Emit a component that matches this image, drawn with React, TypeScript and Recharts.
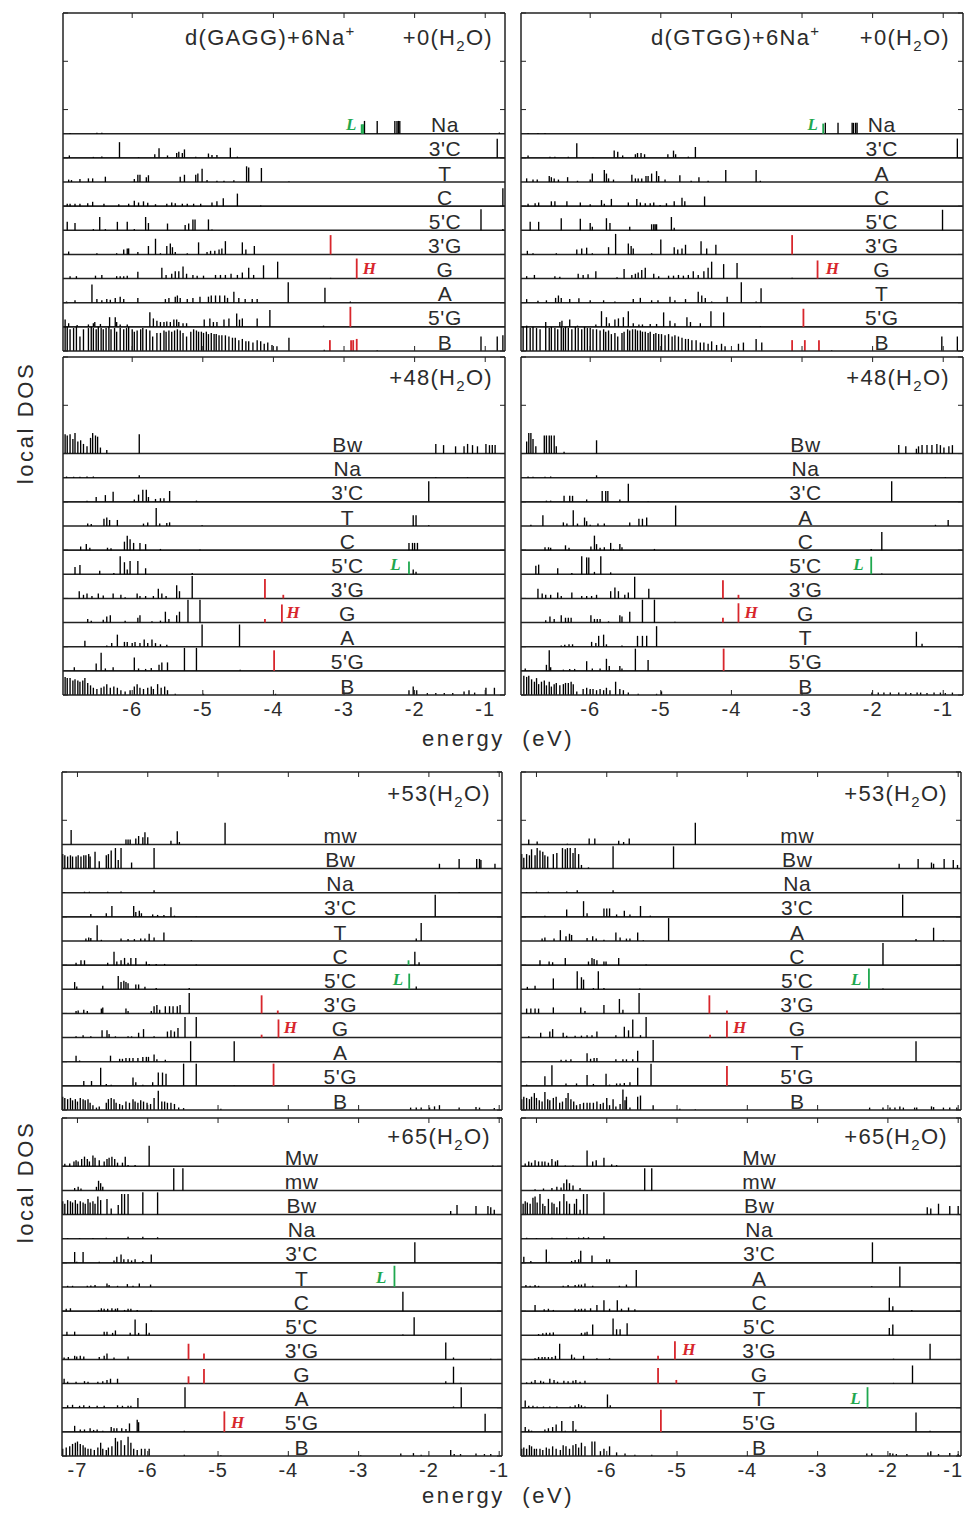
import React from 'react';
import { ComposedChart, Scatter, ErrorBar, XAxis, YAxis, ReferenceLine } from 'recharts';

// [energy (eV), local DOS height in strip units]
type Pk = [number, number];
// [strip, energy, height] for HOMO / LUMO lines
type Mark = [string, number, number];
// [letter, strip, energy of letter]
type Tag = [string, string, number];

// ---------- d(GAGG)+6Na+, +0 H2O ----------
const gagg0Na: Pk[] = [[-6.88,.03],[-6.50,.04],[-6.43,.04],[-2.71,.53],[-2.53,.53],[-2.28,.53],[-2.25,.53],[-2.23,.53],[-2.21,.53],[-0.80,.05]];
const gagg0C3: Pk[] = [[-6.89,.1],[-6.55,.04],[-6.43,.06],[-6.18,.65],[-5.91,.03],[-5.68,.15],[-5.62,.4],[-5.50,.1],[-5.37,.2],[-5.34,.25],[-5.29,.2],[-5.26,.35],[-5.10,.05],[-4.92,.18],[-4.87,.12],[-4.80,.12],[-4.61,.42],[-4.51,.05],[-0.83,.79]];
const gagg0T: Pk[] = [[-6.90,.1],[-6.86,.08],[-6.74,.12],[-6.62,.15],[-6.56,.15],[-6.38,.22],[-5.97,.12],[-5.92,.3],[-5.89,.3],[-5.80,.2],[-5.77,.28],[-5.32,.22],[-5.26,.3],[-5.10,.3],[-5.07,.35],[-5.01,.55],[-4.94,.08],[-4.80,.05],[-4.70,.05],[-4.56,.07],[-4.38,.65],[-4.35,.6],[-4.17,.58],[-3.78,.02]];
const gagg0C: Pk[] = [[-6.92,.1],[-6.88,.1],[-6.81,.1],[-6.74,.1],[-6.63,.12],[-6.56,.18],[-6.40,.1],[-6.19,.08],[-6.05,.1],[-5.97,.22],[-5.91,.15],[-5.84,.2],[-5.78,.14],[-5.67,.08],[-5.51,.1],[-5.44,.15],[-5.39,.12],[-5.29,.1],[-5.22,.1],[-5.13,.1],[-5.03,.1],[-4.87,.15],[-4.80,.2],[-4.71,.33],[-4.51,.52],[-4.18,.03],[-0.75,.74]];
const gagg0C5: Pk[] = [[-6.92,.35],[-6.81,.3],[-6.55,.05],[-6.46,.55],[-6.38,.05],[-6.21,.35],[-6.07,.35],[-5.97,.05],[-5.81,.55],[-5.77,.3],[-5.50,.28],[-5.25,.22],[-5.20,.28],[-5.14,.45],[-5.11,.45],[-4.92,.45],[-4.87,.03],[-1.06,.87],[-0.75,.05]];
const gagg0G3: Pk[] = [[-6.90,.12],[-6.50,.05],[-6.22,.05],[-6.12,.2],[-6.07,.25],[-6.05,.25],[-5.92,.1],[-5.77,.35],[-5.67,.65],[-5.60,.05],[-5.51,.35],[-5.46,.45],[-5.43,.3],[-5.39,.1],[-5.22,.05],[-5.06,.5],[-4.94,.1],[-4.89,.15],[-4.83,.15],[-4.77,.2],[-4.73,.25],[-4.68,.55],[-4.44,.5],[-4.39,.2],[-4.27,.35]];
const gagg0G: Pk[] = [[-6.88,.1],[-6.79,.1],[-6.52,.12],[-6.43,.15],[-6.22,.1],[-6.17,.1],[-6.12,.1],[-6.07,.12],[-5.92,.28],[-5.58,.45],[-5.52,.15],[-5.44,.2],[-5.39,.3],[-5.34,.3],[-5.28,.5],[-5.23,.2],[-5.14,.15],[-5.08,.12],[-4.99,.12],[-4.82,.15],[-4.75,.15],[-4.68,.15],[-4.60,.2],[-4.51,.15],[-4.44,.25],[-4.35,.45],[-4.28,.15],[-4.14,.55],[-3.94,.7],[-3.19,.03]];
const gagg0A: Pk[] = [[-6.93,.05],[-6.81,.1],[-6.57,.75],[-6.50,.15],[-6.43,.1],[-6.36,.15],[-6.31,.12],[-6.24,.2],[-6.17,.25],[-6.12,.15],[-5.92,.2],[-5.53,.15],[-5.48,.2],[-5.39,.25],[-5.36,.3],[-5.32,.2],[-5.22,.15],[-5.14,.2],[-5.04,.25],[-4.92,.25],[-4.88,.3],[-4.82,.3],[-4.76,.3],[-4.69,.3],[-4.65,.2],[-4.56,.45],[-4.49,.2],[-4.40,.15],[-4.30,.15],[-4.23,.15],[-3.79,.85],[-3.27,.62],[-2.91,.05]];
const gagg0G5: Pk[] = [[-6.95,.3],[-6.90,.15],[-6.78,.08],[-6.62,.1],[-6.55,.15],[-6.53,.2],[-6.45,.12],[-6.32,.4],[-6.24,.4],[-6.22,.2],[-6.17,.1],[-6.07,.1],[-5.75,.6],[-5.70,.35],[-5.65,.25],[-5.60,.2],[-5.55,.2],[-5.51,.22],[-5.46,.2],[-5.41,.3],[-5.37,.3],[-5.34,.2],[-5.28,.15],[-5.23,.15],[-4.98,.3],[-4.90,.35],[-4.85,.2],[-4.80,.2],[-4.70,.3],[-4.63,.35],[-4.52,.55],[-4.48,.3],[-4.44,.35],[-4.23,.35],[-4.05,.7],[-3.29,.05]];
const gagg0B: Pk[] = [[-6.95,1],[-6.92,1],[-6.88,.9],[-6.83,.95],[-6.79,1],[-6.74,.6],[-6.69,.9],[-6.62,.95],[-6.58,1],[-6.55,.95],[-6.51,.9],[-6.48,1],[-6.44,.95],[-6.41,.9],[-6.37,.95],[-6.33,1],[-6.30,.9],[-6.25,.95],[-6.22,.8],[-6.17,.95],[-6.12,.9],[-6.08,.95],[-6.05,1],[-6.00,.9],[-5.97,.8],[-5.93,.85],[-5.88,.9],[-5.85,.95],[-5.80,.9],[-5.75,.85],[-5.71,.6],[-5.65,.75],[-5.60,.75],[-5.55,.85],[-5.52,.8],[-5.48,.85],[-5.44,.8],[-5.40,.85],[-5.36,.9],[-5.32,.85],[-5.28,.75],[-5.23,.6],[-5.17,.8],[-5.13,.9],[-5.09,.85],[-5.06,.8],[-5.02,.8],[-4.99,.75],[-4.95,.8],[-4.92,.7],[-4.88,.75],[-4.84,.7],[-4.81,.7],[-4.77,.65],[-4.73,.65],[-4.68,.65],[-4.63,.6],[-4.58,.55],[-4.54,.55],[-4.49,.45],[-4.44,.5],[-4.39,.4],[-4.35,.4],[-4.29,.35],[-4.23,.45],[-4.18,.4],[-4.13,.3],[-4.08,.35],[-4.02,.25],[-3.95,.2],[-3.78,.55],[-3.28,.05],[-2.53,.03],[-1.06,.6],[-0.83,.6],[-0.75,.65]];
const gagg0Homo: Mark[] = [["3'G",-3.19,.8],['G',-2.82,.83],["5'G",-2.91,.83],['B',-3.20,.45],['B',-2.90,.45],['B',-2.87,.45],['B',-2.82,.5]];
const gagg0Lumo: Mark[] = [['Na',-2.75,.39],['Na',-2.73,.39]];
const gagg0Tags: Tag[] = [['L','Na',-2.90],['H','G',-2.64]];

// ---------- d(GTGG)+6Na+, +0 H2O ----------
const gtgg0Na: Pk[] = [[-6.88,.03],[-6.74,.03],[-6.64,.03],[-2.67,.45],[-2.49,.45],[-2.29,.45],[-2.27,.45],[-2.24,.45],[-2.22,.45]];
const gtgg0C3: Pk[] = [[-6.88,.1],[-6.57,.05],[-6.50,.05],[-6.31,.05],[-6.19,.6],[-5.96,.03],[-5.66,.3],[-5.61,.25],[-5.54,.1],[-5.36,.15],[-5.33,.2],[-5.28,.2],[-5.23,.15],[-4.90,.15],[-4.82,.3],[-4.79,.15],[-4.61,.05],[-4.51,.45],[-0.80,.8]];
const gtgg0A: Pk[] = [[-6.90,.15],[-6.81,.1],[-6.75,.1],[-6.58,.25],[-6.55,.2],[-6.51,.15],[-6.45,.1],[-6.32,.2],[-6.18,.05],[-6.00,.1],[-5.97,.35],[-5.80,.5],[-5.77,.35],[-5.74,.15],[-5.67,.1],[-5.41,.3],[-5.36,.15],[-5.32,.15],[-5.27,.15],[-5.21,.25],[-5.18,.25],[-5.13,.35],[-5.06,.45],[-5.03,.25],[-4.94,.1],[-4.73,.28],[-4.57,.05],[-4.46,.2],[-4.33,.05],[-4.08,.5],[-3.65,.5],[-3.59,.05]];
const gtgg0C: Pk[] = [[-6.88,.1],[-6.78,.12],[-6.73,.15],[-6.55,.2],[-6.50,.2],[-6.33,.2],[-6.14,.15],[-6.00,.08],[-5.84,.25],[-5.80,.1],[-5.70,.3],[-5.46,.15],[-5.34,.3],[-5.29,.15],[-5.22,.12],[-5.15,.12],[-5.10,.15],[-5.01,.05],[-4.92,.12],[-4.81,.2],[-4.70,.35],[-4.66,.2],[-4.38,.4]];
const gtgg0C5: Pk[] = [[-6.85,.35],[-6.73,.35],[-6.41,.5],[-6.14,.48],[-6.00,.3],[-5.97,.15],[-5.77,.5],[-5.72,.3],[-5.44,.15],[-5.13,.25],[-5.10,.25],[-5.08,.25],[-5.06,.25],[-4.85,.55],[-4.81,.1],[-1.01,.85]];
const gtgg0G3: Pk[] = [[-6.89,.15],[-6.81,.05],[-6.48,.05],[-6.19,.2],[-6.12,.25],[-6.05,.28],[-5.97,.05],[-5.74,.3],[-5.64,.85],[-5.46,.45],[-5.42,.35],[-5.39,.25],[-5.13,.05],[-5.00,.62],[-4.81,.3],[-4.76,.2],[-4.70,.25],[-4.65,.4],[-4.43,.55],[-4.35,.25],[-4.22,.4]];
const gtgg0G: Pk[] = [[-6.90,.1],[-6.79,.15],[-6.50,.1],[-6.43,.08],[-6.17,.2],[-6.10,.15],[-6.03,.18],[-5.92,.3],[-5.62,.05],[-5.52,.4],[-5.41,.15],[-5.36,.2],[-5.32,.25],[-5.27,.35],[-5.22,.45],[-5.10,.2],[-5.03,.1],[-4.89,.12],[-4.82,.12],[-4.75,.15],[-4.68,.12],[-4.61,.15],[-4.54,.3],[-4.47,.15],[-4.39,.3],[-4.33,.45],[-4.28,.7],[-4.11,.6],[-3.92,.65],[-3.14,.03]];
const gtgg0T: Pk[] = [[-6.90,.15],[-6.74,.08],[-6.62,.1],[-6.49,.2],[-6.45,.3],[-6.41,.2],[-6.29,.15],[-6.16,.18],[-6.00,.1],[-5.81,.1],[-5.65,.05],[-5.39,.15],[-5.29,.2],[-5.13,.1],[-5.04,.1],[-4.87,.25],[-4.80,.1],[-4.65,.15],[-4.47,.45],[-4.42,.3],[-4.37,.2],[-4.28,.05],[-4.06,.25],[-3.86,.85],[-3.65,.05],[-3.58,.6]];
const gtgg0G5: Pk[] = [[-6.90,.05],[-6.63,.2],[-6.43,.2],[-6.40,.25],[-6.29,.3],[-6.18,.05],[-5.92,.1],[-5.84,.65],[-5.77,.4],[-5.73,.15],[-5.65,.3],[-5.60,.35],[-5.53,.4],[-5.46,.65],[-5.39,.15],[-5.31,.1],[-5.26,.1],[-5.15,.12],[-5.06,.12],[-4.96,.6],[-4.87,.25],[-4.80,.15],[-4.63,.4],[-4.58,.2],[-4.44,.15],[-4.29,.65],[-4.11,.6],[-3.59,.03]];
const gtgg0B: Pk[] = [[-6.95,1],[-6.90,1],[-6.85,.95],[-6.81,1],[-6.76,.95],[-6.71,.9],[-6.63,1],[-6.58,.95],[-6.55,1],[-6.50,.95],[-6.46,.9],[-6.41,1],[-6.38,.95],[-6.35,1],[-6.31,.95],[-6.26,.9],[-6.21,1],[-6.17,.95],[-6.12,.9],[-6.08,1],[-6.04,.95],[-6.00,.95],[-5.96,.9],[-5.91,.9],[-5.86,.85],[-5.81,.9],[-5.78,.8],[-5.74,.85],[-5.70,.7],[-5.65,.75],[-5.61,.6],[-5.55,.75],[-5.52,.8],[-5.47,.9],[-5.44,.85],[-5.40,.9],[-5.36,.9],[-5.33,.85],[-5.29,.85],[-5.26,.8],[-5.22,.8],[-5.18,.75],[-5.15,.8],[-5.10,.7],[-5.07,.75],[-5.03,.7],[-4.99,.7],[-4.94,.65],[-4.89,.7],[-4.84,.6],[-4.80,.65],[-4.75,.6],[-4.70,.55],[-4.65,.5],[-4.61,.5],[-4.56,.45],[-4.50,.45],[-4.44,.35],[-4.39,.35],[-4.33,.3],[-4.28,.4],[-4.21,.25],[-4.14,.3],[-4.09,.2],[-3.90,.3],[-3.83,.35],[-3.65,.5],[-3.57,.35],[-2.58,.03],[-1.02,.6],[-0.80,.6]];
const gtgg0Homo: Mark[] = [["3'G",-3.14,.8],['G',-2.78,.75],["5'G",-2.98,.75],['B',-3.14,.45],['B',-2.96,.45],['B',-2.76,.45]];
const gtgg0Lumo: Mark[] = [['Na',-2.70,.42]];
const gtgg0Tags: Tag[] = [['L','Na',-2.85],['H','G',-2.57]];

// ---------- GAGG +48 H2O ----------
const gagg48Bw: Pk[] = [[-6.95,.8],[-6.92,.75],[-6.88,.8],[-6.84,.6],[-6.81,.85],[-6.77,.5],[-6.73,.55],[-6.69,.4],[-6.64,.3],[-6.59,.65],[-6.56,.85],[-6.52,.75],[-6.49,.7],[-6.45,.25],[-6.36,.15],[-5.90,.8],[-1.70,.4],[-1.59,.35],[-1.42,.3],[-1.30,.3],[-1.25,.4],[-1.18,.35],[-1.11,.3],[-0.99,.4],[-0.94,.35],[-0.90,.35],[-0.86,.35]];
const gagg48Na: Pk[] = [[-6.93,.05],[-6.83,.04],[-6.74,.04],[-6.64,.05],[-6.55,.05],[-5.90,.1],[-1.70,.03],[-1.25,.03]];
const gagg48C3: Pk[] = [[-6.64,.05],[-6.51,.2],[-6.38,.28],[-6.27,.42],[-5.97,.1],[-5.91,.3],[-5.85,.5],[-5.80,.5],[-5.77,.2],[-5.67,.12],[-5.60,.15],[-5.55,.15],[-5.47,.45],[-5.09,.05],[-1.80,.85]];
const gagg48T: Pk[] = [[-6.63,.1],[-6.58,.08],[-6.40,.3],[-6.36,.35],[-6.32,.25],[-6.21,.25],[-5.84,.1],[-5.78,.15],[-5.66,.75],[-5.61,.1],[-5.51,.12],[-5.47,.15],[-5.01,.03],[-2.02,.45],[-1.98,.45],[-1.80,.03]];
const gagg48C: Pk[] = [[-6.73,.15],[-6.65,.25],[-6.60,.1],[-6.35,.1],[-6.30,.08],[-6.11,.35],[-6.07,.6],[-6.03,.45],[-5.98,.3],[-5.89,.3],[-5.81,.25],[-5.60,.05],[-5.04,.03],[-2.08,.3],[-2.03,.3],[-2.00,.3],[-1.96,.3]];
const gagg48C5: Pk[] = [[-6.81,.3],[-6.74,.38],[-6.46,.15],[-6.26,.05],[-6.17,.75],[-6.11,.5],[-6.07,.2],[-6.03,.55],[-5.92,.55],[-5.81,.25],[-5.15,.05],[-2.02,.2],[-1.98,.1]];
const gagg48G3: Pk[] = [[-6.75,.3],[-6.69,.15],[-6.64,.2],[-6.57,.1],[-6.48,.2],[-6.41,.12],[-6.27,.2],[-6.16,.15],[-6.10,.05],[-5.93,.2],[-5.89,.1],[-5.81,.1],[-5.70,.1],[-5.63,.4],[-5.58,.2],[-5.52,.1],[-5.37,.55],[-5.33,.3],[-5.15,.93]];
const gagg48G: Pk[] = [[-6.63,.15],[-6.58,.08],[-6.41,.12],[-6.36,.25],[-6.31,.3],[-6.10,.08],[-5.92,.2],[-5.89,.3],[-5.72,.05],[-5.60,.08],[-5.53,.45],[-5.48,.15],[-5.37,.3],[-5.33,.45],[-5.21,.95],[-5.04,.95]];
const gagg48A: Pk[] = [[-6.67,.25],[-6.36,.05],[-6.29,.15],[-6.21,.5],[-6.11,.2],[-6.07,.2],[-6.00,.15],[-5.96,.2],[-5.89,.15],[-5.83,.3],[-5.78,.15],[-5.72,.3],[-5.67,.15],[-5.60,.1],[-5.51,.08],[-5.01,.92],[-4.48,.92]];
const gagg48G5: Pk[] = [[-6.82,.15],[-6.51,.3],[-6.44,.75],[-6.38,.1],[-6.27,.15],[-5.97,.55],[-5.91,.1],[-5.81,.08],[-5.73,.12],[-5.62,.25],[-5.58,.35],[-5.50,.35],[-5.26,.95],[-5.09,.95],[-4.47,.05]];
const gagg48B: Pk[] = [[-6.95,.75],[-6.92,.7],[-6.88,.7],[-6.84,.6],[-6.81,.65],[-6.77,.6],[-6.74,.55],[-6.70,.6],[-6.67,.7],[-6.63,.5],[-6.59,.4],[-6.55,.3],[-6.50,.25],[-6.44,.3],[-6.40,.35],[-6.36,.45],[-6.31,.3],[-6.26,.35],[-6.21,.3],[-6.16,.2],[-6.10,.15],[-6.03,.2],[-5.97,.35],[-5.93,.45],[-5.89,.3],[-5.84,.25],[-5.78,.3],[-5.73,.35],[-5.70,.25],[-5.64,.45],[-5.59,.3],[-5.54,.35],[-5.50,.2],[-5.39,.05],[-4.99,.05],[-3.97,.05],[-2.08,.2],[-2.02,.35],[-1.97,.2],[-1.82,.08],[-1.70,.08],[-1.58,.08],[-1.46,.08],[-1.30,.15],[-1.23,.2],[-1.15,.1],[-0.99,.3],[-0.87,.3]];
const gagg48Homo: Mark[] = [["3'G",-4.12,.8],["3'G",-3.86,.15],['G',-4.12,.15],['G',-3.88,.75],["5'G",-3.99,.85]];
const gagg48Lumo: Mark[] = [["5'C",-2.08,.53]];
const gagg48Tags: Tag[] = [['L',"5'C",-2.27],['H','G',-3.72]];

// ---------- GTGG +48 H2O ----------
const gtgg48Bw: Pk[] = [[-6.90,.5],[-6.87,.85],[-6.84,.85],[-6.81,.6],[-6.77,.3],[-6.65,.75],[-6.62,.75],[-6.58,.75],[-6.55,.75],[-6.51,.75],[-6.48,.3],[-6.37,.08],[-5.91,.55],[-1.63,.35],[-1.53,.3],[-1.38,.2],[-1.35,.3],[-1.30,.35],[-1.23,.35],[-1.16,.35],[-1.09,.4],[-1.04,.35],[-0.99,.25],[-0.92,.3],[-0.87,.35]];
const gtgg48Na: Pk[] = [[-6.88,.05],[-6.81,.04],[-6.64,.04],[-6.56,.05],[-5.91,.1],[-0.97,.03]];
const gtgg48C3: Pk[] = [[-6.62,.05],[-6.56,.05],[-6.37,.25],[-6.29,.25],[-6.25,.25],[-6.05,.1],[-5.83,.45],[-5.78,.45],[-5.75,.45],[-5.58,.1],[-5.46,.75],[-5.18,.03],[-1.73,.85]];
const gtgg48A: Pk[] = [[-6.84,.05],[-6.67,.45],[-6.38,.15],[-6.33,.1],[-6.24,.65],[-6.18,.1],[-6.08,.35],[-6.05,.2],[-6.00,.05],[-5.89,.1],[-5.80,.1],[-5.44,.15],[-5.31,.3],[-5.26,.3],[-5.20,.35],[-4.79,.85],[-1.11,.05],[-0.93,.25]];
const gtgg48C: Pk[] = [[-6.64,.12],[-6.59,.12],[-6.56,.1],[-6.35,.2],[-6.30,.1],[-5.99,.15],[-5.94,.6],[-5.91,.25],[-5.86,.1],[-5.80,.12],[-5.71,.3],[-5.67,.05],[-5.58,.25],[-5.55,.12],[-5.09,.05],[-2.02,.05],[-1.87,.75]];
const gtgg48C5: Pk[] = [[-6.77,.35],[-6.73,.4],[-6.46,.25],[-6.26,.05],[-6.12,.75],[-6.05,.7],[-6.02,.7],[-5.94,.1],[-5.85,.75],[-5.71,.08],[-1.87,.03]];
const gtgg48G3: Pk[] = [[-6.74,.4],[-6.68,.2],[-6.63,.15],[-6.56,.15],[-6.46,.25],[-6.41,.1],[-6.26,.25],[-6.12,.1],[-6.05,.1],[-5.98,.1],[-5.91,.15],[-5.71,.3],[-5.65,.45],[-5.60,.3],[-5.51,.15],[-5.46,.25],[-5.37,.9],[-5.17,.4]];
const gtgg48G: Pk[] = [[-6.63,.1],[-6.57,.25],[-6.51,.15],[-6.41,.3],[-6.35,.2],[-6.31,.2],[-6.27,.2],[-5.99,.3],[-5.94,.15],[-5.90,.15],[-5.86,.15],[-5.74,.05],[-5.58,.3],[-5.55,.25],[-5.44,.45],[-5.26,.95],[-5.09,.95],[-4.80,.03]];
const gtgg48T: Pk[] = [[-6.41,.05],[-6.36,.08],[-6.30,.1],[-6.25,.1],[-5.98,.2],[-5.92,.15],[-5.88,.45],[-5.81,.5],[-5.77,.1],[-5.55,.05],[-5.33,.45],[-5.26,.45],[-5.20,.45],[-5.06,.85],[-1.38,.62],[-1.30,.12]];
const gtgg48G5: Pk[] = [[-6.92,.1],[-6.62,.25],[-6.58,.85],[-6.56,.15],[-6.38,.05],[-6.29,.08],[-6.22,.08],[-6.05,.4],[-5.97,.1],[-5.86,.1],[-5.77,.5],[-5.73,.2],[-5.58,.2],[-5.55,.1],[-5.36,.92],[-5.18,.45]];
const gtgg48B: Pk[] = [[-6.94,.8],[-6.90,.75],[-6.87,.8],[-6.83,.65],[-6.79,.55],[-6.76,.7],[-6.73,.45],[-6.69,.55],[-6.65,.6],[-6.62,.4],[-6.58,.55],[-6.55,.35],[-6.51,.45],[-6.48,.5],[-6.43,.4],[-6.38,.45],[-6.35,.5],[-6.31,.5],[-6.27,.55],[-6.24,.45],[-6.19,.15],[-6.10,.25],[-6.05,.3],[-6.00,.25],[-5.96,.25],[-5.91,.2],[-5.86,.25],[-5.81,.2],[-5.77,.3],[-5.72,.2],[-5.64,.55],[-5.58,.25],[-5.53,.2],[-5.46,.1],[-5.32,.05],[-5.06,.05],[-4.99,.15],[-2.01,.1],[-1.92,.1],[-1.84,.1],[-1.75,.1],[-1.63,.1],[-1.53,.1],[-1.46,.08],[-1.37,.1],[-1.32,.1],[-1.23,.08],[-1.13,.1],[-1.04,.1],[-0.97,.08],[-0.87,.1]];
const gtgg48Homo: Mark[] = [["3'G",-4.12,.75],["3'G",-3.90,.15],['G',-4.12,.2],['G',-3.90,.8],["5'G",-4.11,.92]];
const gtgg48Lumo: Mark[] = [["5'C",-2.02,.73]];
const gtgg48Tags: Tag[] = [['L',"5'C",-2.20],['H','G',-3.72]];

// ---------- GAGG +53 H2O ----------
const gagg53mw: Pk[] = [[-7.09,.6],[-6.31,.2],[-6.28,.2],[-6.25,.2],[-6.17,.25],[-6.13,.35],[-6.07,.3],[-6.04,.5],[-6.00,.3],[-5.67,.15],[-5.58,.55],[-5.55,.1],[-4.90,.9]];
const gagg53Bw: Pk[] = [[-7.21,.6],[-7.18,.55],[-7.14,.5],[-7.10,.55],[-7.07,.5],[-7.02,.5],[-6.99,.55],[-6.95,.5],[-6.91,.55],[-6.88,.55],[-6.84,.6],[-6.82,.5],[-6.75,.7],[-6.69,.3],[-6.59,.55],[-6.56,.6],[-6.52,.75],[-6.46,.85],[-6.42,.35],[-6.38,.85],[-6.23,.25],[-5.91,.85],[-1.85,.2],[-1.57,.4],[-1.32,.4],[-1.28,.4],[-1.26,.35],[-1.06,.2]];
const gagg53Na: Pk[] = [[-7.19,.03],[-6.90,.04],[-6.83,.04],[-6.57,.04],[-6.38,.05],[-5.91,.1],[-1.85,.03],[-1.57,.03]];
const gagg53C3: Pk[] = [[-6.81,.12],[-6.59,.15],[-6.51,.45],[-6.20,.45],[-6.17,.2],[-6.12,.25],[-6.09,.15],[-5.93,.1],[-5.86,.08],[-5.77,.08],[-5.67,.4],[-5.62,.05],[-5.31,.03],[-1.91,.92]];
const gagg53T: Pk[] = [[-6.88,.1],[-6.84,.15],[-6.81,.12],[-6.72,.65],[-6.66,.05],[-6.38,.1],[-6.28,.08],[-6.19,.08],[-6.10,.1],[-6.04,.1],[-5.98,.3],[-5.91,.15],[-5.77,.35],[-5.38,.03],[-2.18,.1],[-2.11,.75]];
const gagg53C: Pk[] = [[-7.02,.1],[-6.95,.2],[-6.90,.2],[-6.57,.1],[-6.48,.55],[-6.44,.15],[-6.38,.2],[-6.33,.3],[-6.28,.1],[-6.24,.3],[-6.17,.3],[-6.02,.15],[-5.98,.05],[-5.88,.05],[-5.76,.05],[-5.31,.03],[-2.20,.55],[-2.14,.12]];
const gagg53C5: Pk[] = [[-7.04,.3],[-7.01,.12],[-6.64,.15],[-6.42,.55],[-6.38,.3],[-6.34,.35],[-6.31,.3],[-6.28,.25],[-6.17,.2],[-6.13,.2],[-6.04,.1],[-5.88,.05],[-5.41,.05],[-2.18,.12]];
const gagg53G3: Pk[] = [[-7.02,.1],[-6.99,.12],[-6.91,.15],[-6.86,.1],[-6.66,.2],[-6.64,.25],[-6.31,.2],[-6.28,.1],[-5.95,.1],[-5.91,.3],[-5.87,.35],[-5.83,.15],[-5.75,.3],[-5.69,.3],[-5.64,.3],[-5.58,.3],[-5.54,.35],[-5.41,.85]];
const gagg53G: Pk[] = [[-7.02,.05],[-6.92,.1],[-6.81,.05],[-6.65,.3],[-6.58,.3],[-6.55,.15],[-6.46,.05],[-6.28,.05],[-6.23,.05],[-6.13,.2],[-6.06,.35],[-5.91,.05],[-5.72,.25],[-5.67,.3],[-5.62,.25],[-5.57,.4],[-5.47,.85],[-5.31,.85]];
const gagg53A: Pk[] = [[-7.02,.25],[-6.97,.05],[-6.53,.25],[-6.40,.12],[-6.36,.12],[-6.31,.15],[-6.26,.15],[-6.21,.15],[-6.14,.15],[-6.07,.2],[-6.02,.2],[-5.99,.2],[-5.91,.3],[-5.87,.1],[-5.75,.08],[-5.39,.85],[-4.77,.85]];
const gagg53G5: Pk[] = [[-6.91,.2],[-6.80,.2],[-6.67,.75],[-6.59,.08],[-6.52,.05],[-6.21,.35],[-6.17,.15],[-6.07,.05],[-5.93,.15],[-5.85,.55],[-5.79,.55],[-5.74,.5],[-5.49,.92],[-5.31,.92],[-4.77,.03]];
const gagg53B: Pk[] = [[-7.21,.55],[-7.18,.5],[-7.14,.45],[-7.10,.5],[-7.07,.4],[-7.03,.45],[-7.00,.35],[-6.96,.5],[-6.92,.45],[-6.89,.4],[-6.85,.45],[-6.82,.3],[-6.78,.2],[-6.73,.1],[-6.69,.15],[-6.59,.3],[-6.56,.45],[-6.52,.5],[-6.48,.45],[-6.45,.3],[-6.40,.25],[-6.36,.2],[-6.31,.35],[-6.26,.3],[-6.21,.45],[-6.18,.35],[-6.14,.3],[-6.10,.4],[-6.06,.35],[-6.01,.3],[-5.96,.25],[-5.91,.5],[-5.85,.8],[-5.80,.35],[-5.76,.35],[-5.72,.3],[-5.67,.3],[-5.62,.25],[-5.56,.1],[-5.49,.08],[-4.96,.05],[-2.26,.1],[-2.18,.1],[-2.11,.1],[-1.99,.1],[-1.92,.15],[-1.85,.2],[-1.57,.1],[-1.33,.12],[-1.28,.1],[-1.07,.08]];
const gagg53Homo: Mark[] = [["3'G",-4.38,.75],["3'G",-4.15,.12],['G',-4.38,.12],['G',-4.14,.75],["5'G",-4.21,.92]];
const gagg53Lumo: Mark[] = [['C',-2.29,.2],["5'C",-2.28,.65]];
const gagg53Tags: Tag[] = [['L',"5'C",-2.44],['H','G',-3.97]];

// ---------- GTGG +53 H2O ----------
const gtgg53mw: Pk[] = [[-7.11,.2],[-6.99,.12],[-6.56,.03],[-6.25,.25],[-6.17,.25],[-5.83,.15],[-5.76,.1],[-5.68,.25],[-4.74,.9]];
const gtgg53Bw: Pk[] = [[-7.21,.6],[-7.18,.45],[-7.14,.6],[-7.10,.55],[-7.07,.8],[-7.02,.55],[-6.99,.85],[-6.95,.75],[-6.91,.7],[-6.88,.55],[-6.84,.5],[-6.76,.6],[-6.71,.65],[-6.63,.85],[-6.59,.8],[-6.56,.85],[-6.52,.85],[-6.48,.65],[-6.45,.85],[-6.40,.6],[-6.36,.15],[-6.26,.05],[-5.91,.92],[-5.05,.92],[-1.84,.2],[-1.57,.4],[-1.38,.25],[-1.35,.2],[-1.20,.4],[-1.07,.35],[-1.01,.15]];
const gtgg53Na: Pk[] = [[-7.14,.03],[-7.00,.04],[-6.83,.04],[-6.57,.05],[-6.42,.1],[-5.91,.1]];
const gtgg53C3: Pk[] = [[-6.88,.05],[-6.57,.3],[-6.33,.65],[-6.28,.15],[-6.04,.35],[-6.00,.35],[-5.96,.35],[-5.86,.1],[-5.75,.25],[-5.67,.1],[-5.52,.45],[-5.38,.05],[-1.79,.92]];
const gtgg53A: Pk[] = [[-6.92,.1],[-6.88,.15],[-6.75,.1],[-6.66,.45],[-6.58,.2],[-6.53,.3],[-6.50,.25],[-6.28,.12],[-6.20,.2],[-6.15,.1],[-6.04,.05],[-5.87,.35],[-5.81,.15],[-5.72,.1],[-5.67,.1],[-5.56,.35],[-5.48,.03],[-5.12,.95],[-1.60,.08],[-1.35,.55],[-1.21,.03]];
const gtgg53C: Pk[] = [[-6.95,.2],[-6.82,.15],[-6.77,.12],[-6.59,.3],[-6.26,.15],[-6.21,.3],[-6.18,.25],[-6.14,.2],[-6.04,.15],[-6.01,.15],[-5.83,.3],[-5.44,.03],[-2.07,.92]];
const gtgg53C5: Pk[] = [[-7.13,.1],[-7.02,.15],[-6.76,.45],[-6.42,.75],[-6.36,.5],[-6.33,.4],[-6.19,.05],[-6.12,.75],[-6.04,.05],[-5.53,.03],[-2.07,.03]];
const gtgg53G3: Pk[] = [[-7.14,.2],[-7.08,.2],[-7.02,.2],[-6.97,.2],[-6.76,.25],[-6.37,.25],[-6.31,.1],[-6.04,.35],[-5.82,.6],[-5.77,.15],[-5.54,.85]];
const gtgg53G: Pk[] = [[-7.11,.05],[-6.94,.2],[-6.81,.25],[-6.77,.35],[-6.62,.2],[-6.57,.08],[-6.45,.08],[-6.36,.08],[-6.28,.1],[-6.21,.1],[-6.14,.25],[-5.87,.1],[-5.75,.45],[-5.69,.3],[-5.63,.75],[-5.52,.1],[-5.44,.85]];
const gtgg53T: Pk[] = [[-6.65,.08],[-6.58,.08],[-6.51,.1],[-6.28,.35],[-6.23,.12],[-6.18,.15],[-6.14,.15],[-5.87,.1],[-5.77,.1],[-5.72,.1],[-5.63,.1],[-5.56,.45],[-5.34,.9],[-1.60,.85]];
const gtgg53G5: Pk[] = [[-7.14,.05],[-6.88,.4],[-6.78,.85],[-6.58,.1],[-6.43,.1],[-6.28,.45],[-6.19,.08],[-6.01,.5],[-5.96,.05],[-5.86,.1],[-5.81,.1],[-5.75,.12],[-5.67,.15],[-5.56,.75],[-5.37,.92]];
const gtgg53B: Pk[] = [[-7.21,.45],[-7.18,.55],[-7.14,.5],[-7.10,.45],[-7.07,.55],[-7.03,.7],[-7.00,.5],[-6.96,.4],[-6.92,.35],[-6.88,.75],[-6.84,.45],[-6.81,.4],[-6.76,.5],[-6.72,.55],[-6.67,.3],[-6.63,.35],[-6.58,.5],[-6.55,.7],[-6.51,.45],[-6.47,.35],[-6.43,.2],[-6.38,.25],[-6.33,.3],[-6.28,.3],[-6.24,.3],[-6.19,.3],[-6.14,.35],[-6.09,.25],[-6.05,.3],[-6.00,.5],[-5.96,.2],[-5.91,.45],[-5.87,.15],[-5.81,.25],[-5.77,.85],[-5.74,.4],[-5.72,.55],[-5.67,.1],[-5.56,.55],[-5.52,.6],[-5.34,.2],[-4.96,.05],[-4.74,.03],[-2.26,.1],[-2.07,.1],[-1.97,.1],[-1.90,.1],[-1.83,.15],[-1.78,.1],[-1.62,.1],[-1.59,.1],[-1.38,.15],[-1.35,.12],[-1.21,.1],[-1.12,.1],[-1.02,.1]];
const gtgg53Homo: Mark[] = [["3'G",-4.54,.75],["3'G",-4.29,.12],['G',-4.53,.12],['G',-4.29,.7],["5'G",-4.29,.82]];
const gtgg53Lumo: Mark[] = [["5'C",-2.27,.86]];
const gtgg53Tags: Tag[] = [['L',"5'C",-2.45],['H','G',-4.11]];

// ---------- GAGG +65 H2O ----------
const gagg65Mw: Pk[] = [[-7.18,.1],[-7.11,.12],[-7.05,.2],[-7.02,.25],[-6.99,.2],[-6.94,.3],[-6.90,.4],[-6.86,.3],[-6.83,.2],[-6.78,.45],[-6.75,.35],[-6.69,.25],[-6.62,.2],[-6.58,.3],[-6.55,.35],[-6.51,.4],[-6.47,.3],[-6.43,.15],[-6.36,.15],[-6.32,.4],[-6.28,.05],[-6.18,.05],[-5.98,.85],[-1.09,.03]];
const gagg65mw: Pk[] = [[-7.04,.1],[-6.99,.15],[-6.95,.08],[-6.73,.15],[-6.70,.4],[-6.67,.3],[-6.64,.15],[-5.63,.92],[-5.50,.92]];
const gagg65Bw: Pk[] = [[-7.21,.55],[-7.18,.45],[-7.14,.6],[-7.10,.55],[-7.07,.5],[-7.03,.6],[-7.00,.45],[-6.96,.55],[-6.92,.5],[-6.89,.45],[-6.85,.65],[-6.82,.5],[-6.78,.55],[-6.75,.45],[-6.71,.75],[-6.67,.6],[-6.58,.65],[-6.52,.25],[-6.42,.4],[-6.37,.85],[-6.33,.85],[-6.28,.85],[-6.07,.92],[-5.86,.92],[-1.69,.15],[-1.60,.4],[-1.33,.35],[-1.16,.35],[-1.12,.3],[-1.07,.2]];
const gagg65Na: Pk[] = [[-7.14,.03],[-6.97,.03],[-6.78,.03],[-6.59,.04],[-6.28,.08],[-6.07,.08],[-5.86,.06]];
const gagg65C3: Pk[] = [[-7.04,.45],[-7.01,.05],[-6.92,.45],[-6.69,.05],[-6.48,.1],[-6.44,.25],[-6.38,.35],[-6.34,.15],[-6.28,.15],[-6.23,.1],[-6.18,.15],[-6.07,.08],[-5.95,.35],[-2.20,.85]];
const gagg65T: Pk[] = [[-7.14,.05],[-7.07,.05],[-6.86,.05],[-6.81,.06],[-6.75,.08],[-6.58,.15],[-6.55,.08],[-6.43,.05],[-6.29,.12],[-6.21,.05],[-6.12,.15],[-5.96,.1]];
const gagg65C: Pk[] = [[-7.16,.1],[-7.10,.12],[-6.70,.05],[-6.66,.12],[-6.62,.1],[-6.57,.1],[-6.51,.12],[-6.46,.1],[-6.43,.12],[-6.33,.05],[-6.28,.1],[-6.24,.1],[-6.15,.05],[-5.95,.03],[-2.37,.8]];
const gagg65C5: Pk[] = [[-7.15,.15],[-7.04,.15],[-6.62,.15],[-6.58,.15],[-6.50,.1],[-6.46,.2],[-6.25,.1],[-6.18,.65],[-6.13,.1],[-6.02,.5],[-5.98,.1],[-2.37,.03],[-2.21,.75]];
const gagg65G3: Pk[] = [[-7.19,.08],[-7.13,.1],[-7.04,.15],[-7.01,.12],[-6.96,.15],[-6.91,.12],[-6.69,.1],[-6.62,.15],[-6.58,.25],[-6.48,.08],[-6.28,.12],[-1.76,.7],[-1.65,.08],[-1.12,.03]];
const gagg65G: Pk[] = [[-7.19,.2],[-7.14,.08],[-7.02,.08],[-6.90,.1],[-6.85,.08],[-6.71,.08],[-6.64,.1],[-6.58,.15],[-6.53,.2],[-6.43,.2],[-1.76,.1],[-1.65,.7],[-1.55,.03]];
const gagg65A: Pk[] = [[-7.14,.1],[-7.07,.12],[-6.97,.08],[-6.91,.1],[-6.83,.08],[-6.72,.08],[-6.62,.08],[-6.43,.1],[-6.36,.08],[-6.28,.08],[-6.24,.08],[-6.14,.4],[-5.47,.85],[-1.65,.05],[-1.54,.85]];
const gagg65G5: Pk[] = [[-7.04,.25],[-6.96,.1],[-6.90,.1],[-6.82,.15],[-6.77,.08],[-6.72,.1],[-6.64,.05],[-6.52,.2],[-6.48,.15],[-6.44,.15],[-6.37,.15],[-6.31,.12],[-6.26,.35],[-6.15,.5],[-6.13,.4],[-5.48,.05],[-1.20,.75]];
const gagg65B: Pk[] = [[-7.21,.3],[-7.16,.35],[-7.11,.4],[-7.07,.5],[-7.03,.55],[-7.00,.6],[-6.96,.5],[-6.92,.45],[-6.89,.35],[-6.85,.3],[-6.81,.3],[-6.76,.25],[-6.71,.35],[-6.67,.55],[-6.64,.3],[-6.59,.25],[-6.56,.35],[-6.51,.4],[-6.46,.75],[-6.43,.6],[-6.38,.65],[-6.33,.45],[-6.28,.8],[-6.24,.55],[-6.20,.3],[-6.15,.25],[-6.09,.3],[-6.04,.3],[-5.98,.3],[-5.48,.05],[-4.96,.03],[-2.97,.03],[-2.40,.1],[-2.22,.12],[-2.11,.05],[-1.69,.25],[-1.64,.08],[-1.55,.08],[-1.33,.1],[-1.21,.08],[-1.12,.08]];
const gagg65Homo: Mark[] = [["3'G",-5.42,.65],["3'G",-5.20,.25],['G',-5.42,.3],['G',-5.20,.6],["5'G",-4.91,.85]];
const gagg65Lumo: Mark[] = [['T',-2.49,.88]];
const gagg65Tags: Tag[] = [['L','T',-2.68],['H',"5'G",-4.72]];

// ---------- GTGG +65 H2O ----------
const gtgg65Mw: Pk[] = [[-7.16,.12],[-7.11,.2],[-7.07,.15],[-7.02,.25],[-6.97,.2],[-6.92,.2],[-6.88,.2],[-6.83,.15],[-6.78,.3],[-6.73,.2],[-6.70,.25],[-6.59,.03],[-6.48,.03],[-6.28,.65],[-6.20,.2],[-6.15,.25],[-6.04,.35],[-5.93,.08],[-5.86,.05]];
const gtgg65mw: Pk[] = [[-7.02,.05],[-6.90,.08],[-6.78,.1],[-6.71,.15],[-6.65,.12],[-6.61,.3],[-6.57,.45],[-6.53,.3],[-6.48,.2],[-6.38,.1],[-5.46,.92],[-5.36,.92]];
const gtgg65Bw: Pk[] = [[-7.19,.45],[-7.16,.55],[-7.13,.5],[-7.09,.45],[-7.05,.7],[-7.02,.75],[-6.99,.5],[-6.95,.85],[-6.91,.45],[-6.88,.35],[-6.83,.65],[-6.78,.5],[-6.75,.45],[-6.71,.3],[-6.67,.55],[-6.61,.85],[-6.57,.55],[-6.53,.45],[-6.46,.45],[-6.43,.65],[-6.38,.2],[-6.33,.85],[-6.28,.85],[-6.04,.92],[-1.44,.3],[-1.39,.25],[-1.28,.45],[-1.12,.35],[-1.00,.35]];
const gtgg65Na: Pk[] = [[-7.14,.04],[-7.00,.03],[-6.78,.04],[-6.57,.04],[-6.40,.05],[-6.33,.06],[-6.26,.06],[-6.04,.1]];
const gtgg65C3: Pk[] = [[-7.18,.25],[-7.08,.08],[-6.86,.55],[-6.82,.05],[-6.50,.08],[-6.45,.12],[-6.40,.15],[-6.37,.5],[-6.21,.3],[-6.00,.15],[-5.96,.15],[-2.22,.85]];
const gtgg65A: Pk[] = [[-7.15,.08],[-7.09,.05],[-7.02,.08],[-6.97,.05],[-6.62,.05],[-6.55,.08],[-6.45,.08],[-6.40,.1],[-6.36,.1],[-6.31,.15],[-6.20,.05],[-5.82,.05],[-5.72,.1],[-5.58,.7],[-2.23,.03],[-1.83,.85]];
const gtgg65C: Pk[] = [[-7.02,.25],[-6.89,.08],[-6.83,.1],[-6.76,.05],[-6.45,.1],[-6.40,.08],[-6.36,.1],[-6.31,.1],[-6.23,.12],[-6.14,.25],[-6.04,.45],[-5.96,.1],[-5.85,.45],[-5.79,.1],[-5.69,.15],[-5.60,.08],[-1.98,.55],[-1.93,.2],[-1.66,.05]];
const gtgg65C5: Pk[] = [[-6.97,.05],[-6.91,.08],[-6.86,.1],[-6.81,.1],[-6.76,.12],[-6.36,.1],[-6.31,.12],[-6.28,.15],[-6.20,.45],[-5.91,.7],[-5.86,.25],[-5.81,.25],[-5.71,.5],[-1.98,.3],[-1.93,.45]];
const gtgg65G3: Pk[] = [[-7.02,.05],[-6.97,.1],[-6.92,.1],[-6.88,.1],[-6.83,.1],[-6.78,.1],[-6.73,.15],[-6.67,.65],[-6.50,.2],[-6.46,.08],[-6.33,.15],[-6.14,.05],[-5.96,.05],[-1.92,.03],[-1.40,.65]];
const gtgg65G: Pk[] = [[-7.14,.05],[-7.07,.08],[-7.02,.15],[-6.94,.12],[-6.90,.08],[-6.81,.2],[-6.75,.15],[-6.70,.08],[-6.61,.12],[-6.55,.1],[-6.48,.12],[-6.44,.15],[-6.38,.08],[-6.31,.12],[-1.92,.03],[-1.65,.75]];
const gtgg65T: Pk[] = [[-7.16,.3],[-7.11,.08],[-7.05,.08],[-6.99,.05],[-6.90,.05],[-6.81,.05],[-6.71,.05],[-6.52,.05],[-6.45,.1],[-6.40,.15],[-6.36,.1],[-6.31,.05],[-5.99,.55],[-5.95,.1]];
const gtgg65G5: Pk[] = [[-7.16,.2],[-7.11,.1],[-7.07,.05],[-6.88,.1],[-6.83,.15],[-6.77,.2],[-6.72,.3],[-6.64,.45],[-6.59,.05],[-6.48,.45],[-6.44,.1],[-1.60,.8],[-1.40,.05]];
const gtgg65B: Pk[] = [[-7.21,.3],[-7.18,.35],[-7.14,.3],[-7.10,.45],[-7.07,.4],[-7.03,.3],[-7.00,.3],[-6.95,.3],[-6.91,.25],[-6.86,.35],[-6.82,.3],[-6.77,.4],[-6.72,.3],[-6.66,.25],[-6.62,.45],[-6.58,.4],[-6.53,.3],[-6.48,.45],[-6.44,.5],[-6.40,.35],[-6.36,.55],[-6.31,.4],[-6.21,.6],[-6.17,.6],[-6.09,.2],[-6.04,.3],[-5.96,.4],[-5.86,.15],[-5.74,.1],[-5.60,.05],[-5.36,.05],[-2.30,.1],[-2.23,.1],[-1.97,.12],[-1.93,.1],[-1.88,.08],[-1.73,.08],[-1.43,.15],[-1.39,.2],[-1.28,.08],[-1.12,.12],[-1.00,.08]];
const gtgg65Homo: Mark[] = [["3'G",-5.27,.15],["3'G",-5.03,.75],['G',-5.27,.65],['G',-5.01,.15],["5'G",-5.23,.92]];
const gtgg65Lumo: Mark[] = [['T',-2.29,.85]];
const gtgg65Tags: Tag[] = [['H',"3'G",-4.83],['L','T',-2.46]];

// axis ticks
const TOP_TICKS = [-6, -5, -4, -3, -2, -1];
const BOT_TICKS = [-7, -6, -5, -4, -3, -2, -1];
const Y_TICKS = [0, 2, 4, 6, 8, 10, 12, 14];

interface PanelDef {
  strips: [string, Pk[]][]; // top to bottom
  homo: Mark[];
  lumo: Mark[];
  tags: Tag[];
  nameE: number; // energy where the strip names sit
}

const GAGG0: PanelDef = { strips: [['Na', gagg0Na], ["3'C", gagg0C3], ['T', gagg0T], ['C', gagg0C], ["5'C", gagg0C5], ["3'G", gagg0G3], ['G', gagg0G], ['A', gagg0A], ["5'G", gagg0G5], ['B', gagg0B]], homo: gagg0Homo, lumo: gagg0Lumo, tags: gagg0Tags, nameE: -1.57 };
const GTGG0: PanelDef = { strips: [['Na', gtgg0Na], ["3'C", gtgg0C3], ['A', gtgg0A], ['C', gtgg0C], ["5'C", gtgg0C5], ["3'G", gtgg0G3], ['G', gtgg0G], ['T', gtgg0T], ["5'G", gtgg0G5], ['B', gtgg0B]], homo: gtgg0Homo, lumo: gtgg0Lumo, tags: gtgg0Tags, nameE: -1.87 };
const GAGG48: PanelDef = { strips: [['Bw', gagg48Bw], ['Na', gagg48Na], ["3'C", gagg48C3], ['T', gagg48T], ['C', gagg48C], ["5'C", gagg48C5], ["3'G", gagg48G3], ['G', gagg48G], ['A', gagg48A], ["5'G", gagg48G5], ['B', gagg48B]], homo: gagg48Homo, lumo: gagg48Lumo, tags: gagg48Tags, nameE: -2.95 };
const GTGG48: PanelDef = { strips: [['Bw', gtgg48Bw], ['Na', gtgg48Na], ["3'C", gtgg48C3], ['A', gtgg48A], ['C', gtgg48C], ["5'C", gtgg48C5], ["3'G", gtgg48G3], ['G', gtgg48G], ['T', gtgg48T], ["5'G", gtgg48G5], ['B', gtgg48B]], homo: gtgg48Homo, lumo: gtgg48Lumo, tags: gtgg48Tags, nameE: -2.95 };
const GAGG53: PanelDef = { strips: [['mw', gagg53mw], ['Bw', gagg53Bw], ['Na', gagg53Na], ["3'C", gagg53C3], ['T', gagg53T], ['C', gagg53C], ["5'C", gagg53C5], ["3'G", gagg53G3], ['G', gagg53G], ['A', gagg53A], ["5'G", gagg53G5], ['B', gagg53B]], homo: gagg53Homo, lumo: gagg53Lumo, tags: gagg53Tags, nameE: -3.26 };
const GTGG53: PanelDef = { strips: [['mw', gtgg53mw], ['Bw', gtgg53Bw], ['Na', gtgg53Na], ["3'C", gtgg53C3], ['A', gtgg53A], ['C', gtgg53C], ["5'C", gtgg53C5], ["3'G", gtgg53G3], ['G', gtgg53G], ['T', gtgg53T], ["5'G", gtgg53G5], ['B', gtgg53B]], homo: gtgg53Homo, lumo: gtgg53Lumo, tags: gtgg53Tags, nameE: -3.29 };
const GAGG65: PanelDef = { strips: [['Mw', gagg65Mw], ['mw', gagg65mw], ['Bw', gagg65Bw], ['Na', gagg65Na], ["3'C", gagg65C3], ['T', gagg65T], ['C', gagg65C], ["5'C", gagg65C5], ["3'G", gagg65G3], ['G', gagg65G], ['A', gagg65A], ["5'G", gagg65G5], ['B', gagg65B]], homo: gagg65Homo, lumo: gagg65Lumo, tags: gagg65Tags, nameE: -3.81 };
const GTGG65: PanelDef = { strips: [['Mw', gtgg65Mw], ['mw', gtgg65mw], ['Bw', gtgg65Bw], ['Na', gtgg65Na], ["3'C", gtgg65C3], ['A', gtgg65A], ['C', gtgg65C], ["5'C", gtgg65C5], ["3'G", gtgg65G3], ['G', gtgg65G], ['T', gtgg65T], ["5'G", gtgg65G5], ['B', gtgg65B]], homo: gtgg65Homo, lumo: gtgg65Lumo, tags: gtgg65Tags, nameE: -3.83 };

const FONT = "'Liberation Sans', Arial, Helvetica, sans-serif";
const INK = '#222';
const TEXT = '#2b2b2b';
const HOMO_RED = '#d8262c';
const LUMO_GREEN = '#1fa84f';
const FRAME_H = 338;
const PAD_R = 14; // room for the last tick label

const Blank = () => <g />;

const NameShape = (p: any) => (
  <text x={p.cx} y={p.cy} textAnchor="middle" fontSize={21} fill={TEXT} letterSpacing={0.6}>
    {p.payload.t}
  </text>
);

const TagShape = (p: any) => (
  <text
    x={p.cx}
    y={p.cy}
    textAnchor="middle"
    fontSize={17}
    fontWeight="bold"
    fontStyle="italic"
    fontFamily="'Liberation Serif', 'DejaVu Serif', serif"
    fill={p.payload.t === 'H' ? HOMO_RED : LUMO_GREEN}
  >
    {p.payload.t}
  </text>
);

interface PanelProps {
  def: PanelDef;
  x0: number;
  y0: number;
  w: number;
  domain: [number, number];
  ticks: number[];
  labelled: boolean;
  skipTick?: number;
  edgeTick?: number; // label that would run off the page, nudged left
}

const Panel = ({ def, x0, y0, w, domain, ticks, labelled, skipTick, edgeTick }: PanelProps) => {
  const n = def.strips.length;
  const baseOf = (s: string) => n - 1 - def.strips.findIndex(([name]) => name === s);

  // every spike sits on its strip baseline and rises by its height (asymmetric y error)
  const black = def.strips.flatMap(([, pk], i) => pk.map(([e, h]) => ({ e, y: n - 1 - i, err: [0, h] })));
  const red = def.homo.map(([s, e, h]) => ({ e, y: baseOf(s), err: [0, h] }));
  const green = def.lumo.map(([s, e, h]) => ({ e, y: baseOf(s), err: [0, h] }));
  const names = def.strips.map(([name], i) => ({ e: def.nameE, y: n - 1 - i + 0.06, t: name }));
  const tags = def.tags.map(([t, s, e]) => ({ e, y: baseOf(s) + 0.17, t }));

  // axes need a non-zero size to be drawn, so each takes 1px of the 2px padding
  const axisH = labelled ? 31 : 1;
  const renderTick = (p: any) => {
    const v = p.payload.value;
    if (!labelled || v === skipTick) return <g />;
    const dx = v === edgeTick ? -5 : 0;
    return (
      <text x={p.x + dx} y={p.y + 14} textAnchor="middle" fontSize={20} letterSpacing={1} fill={TEXT}>
        {v}
      </text>
    );
  };
  const axisLine = { stroke: INK, strokeWidth: 1.5 };
  const tickLine = { stroke: INK, strokeWidth: 1 };

  return (
    <div style={{ position: 'absolute', left: x0 - 2, top: y0 - 2 }}>
      <ComposedChart
        width={w + 4 + PAD_R}
        height={FRAME_H + 3 + axisH}
        margin={{ top: 1, right: 1 + PAD_R, bottom: 1, left: 1 }}
      >
        <XAxis dataKey="e" type="number" domain={domain} allowDataOverflow ticks={ticks} interval={0}
          height={axisH} tickSize={-5} tickMargin={12} axisLine={axisLine} tickLine={tickLine} tick={renderTick} />
        <XAxis xAxisId="top" orientation="top" dataKey="e" type="number" domain={domain} allowDataOverflow
          ticks={ticks} interval={0} height={1} tickSize={-5} axisLine={axisLine} tickLine={tickLine} tick={Blank} />
        <YAxis dataKey="y" type="number" domain={[0, 14]} allowDataOverflow ticks={Y_TICKS} interval={0}
          width={1} tickSize={-5} axisLine={axisLine} tickLine={tickLine} tick={Blank} />
        <YAxis yAxisId="right" orientation="right" dataKey="y" type="number" domain={[0, 14]} allowDataOverflow
          ticks={Y_TICKS} interval={0} width={1} tickSize={-5} axisLine={axisLine} tickLine={tickLine} tick={Blank} />
        {Array.from({ length: n - 1 }, (_, k) => (
          <ReferenceLine key={k} y={k + 1} stroke={INK} strokeWidth={1.6} />
        ))}
        <Scatter data={black} shape={Blank} isAnimationActive={false}>
          <ErrorBar dataKey="err" direction="y" width={0} stroke="#000" strokeWidth={1.35} isAnimationActive={false} />
        </Scatter>
        <Scatter data={red} shape={Blank} isAnimationActive={false}>
          <ErrorBar dataKey="err" direction="y" width={0} stroke={HOMO_RED} strokeWidth={1.8} isAnimationActive={false} />
        </Scatter>
        <Scatter data={green} shape={Blank} isAnimationActive={false}>
          <ErrorBar dataKey="err" direction="y" width={0} stroke={LUMO_GREEN} strokeWidth={1.8} isAnimationActive={false} />
        </Scatter>
        <Scatter data={names} shape={NameShape} isAnimationActive={false} />
        <Scatter data={tags} shape={TagShape} isAnimationActive={false} />
      </ComposedChart>
    </div>
  );
};

const Water = ({ x, y, n }: { x: number; y: number; n: number }) => (
  <text x={x} y={y} textAnchor="end" fontSize={22} letterSpacing={1.3} fill={TEXT}>
    +{n}(H<tspan fontSize={15} dy={6}>2</tspan><tspan dy={-6}>O)</tspan>
  </text>
);

const Molecule = ({ x, y, seq }: { x: number; y: number; seq: string }) => (
  <text x={x} y={y} fontSize={22} letterSpacing={1.3} fill={TEXT}>
    d({seq})+6Na<tspan fontSize={15} dy={-9}>+</tspan>
  </text>
);

const TOP_DOMAIN: [number, number] = [-6.98, -0.72];
const BOT_DOMAIN: [number, number] = [-7.22, -0.96];

export default function App() {
  return (
    <div style={{ position: 'absolute', left: 0, top: 0, width: 965, height: 1518, background: '#fff', fontFamily: FONT, overflow: 'hidden' }}>
      <Panel def={GAGG0} x0={63} y0={13} w={442} domain={TOP_DOMAIN} ticks={TOP_TICKS} labelled={false} />
      <Panel def={GTGG0} x0={521} y0={13} w={442} domain={TOP_DOMAIN} ticks={TOP_TICKS} labelled={false} />
      <Panel def={GAGG48} x0={63} y0={357} w={442} domain={TOP_DOMAIN} ticks={TOP_TICKS} labelled />
      <Panel def={GTGG48} x0={521} y0={357} w={442} domain={TOP_DOMAIN} ticks={TOP_TICKS} labelled />
      <Panel def={GAGG53} x0={62} y0={772} w={440} domain={BOT_DOMAIN} ticks={BOT_TICKS} labelled={false} />
      <Panel def={GTGG53} x0={521} y0={772} w={440} domain={BOT_DOMAIN} ticks={BOT_TICKS} labelled={false} />
      <Panel def={GAGG65} x0={62} y0={1118} w={440} domain={BOT_DOMAIN} ticks={BOT_TICKS} labelled />
      <Panel def={GTGG65} x0={521} y0={1118} w={440} domain={BOT_DOMAIN} ticks={BOT_TICKS} labelled skipTick={-7} edgeTick={-1} />

      <svg width={965} height={1518} style={{ position: 'absolute', left: 0, top: 0, pointerEvents: 'none' }}>
        <Molecule x={185} y={45} seq="GAGG" />
        <Water x={493} y={45} n={0} />
        <Molecule x={651} y={45} seq="GTGG" />
        <Water x={950} y={45} n={0} />
        <Water x={493} y={385} n={48} />
        <Water x={950} y={385} n={48} />
        <Water x={491} y={801} n={53} />
        <Water x={948} y={801} n={53} />
        <Water x={491} y={1144} n={65} />
        <Water x={948} y={1144} n={65} />

        <text x={422} y={746} fontSize={22} letterSpacing={2.6} fill={TEXT}>energy{'\u00A0\u00A0'}(eV)</text>
        <text x={422} y={1503} fontSize={22} letterSpacing={2.6} fill={TEXT}>energy{'\u00A0\u00A0'}(eV)</text>
        <text transform="translate(33,423) rotate(-90)" textAnchor="middle" fontSize={22} letterSpacing={2.6} fill={TEXT}>local DOS</text>
        <text transform="translate(33,1182) rotate(-90)" textAnchor="middle" fontSize={22} letterSpacing={2.6} fill={TEXT}>local DOS</text>
      </svg>
    </div>
  );
}
